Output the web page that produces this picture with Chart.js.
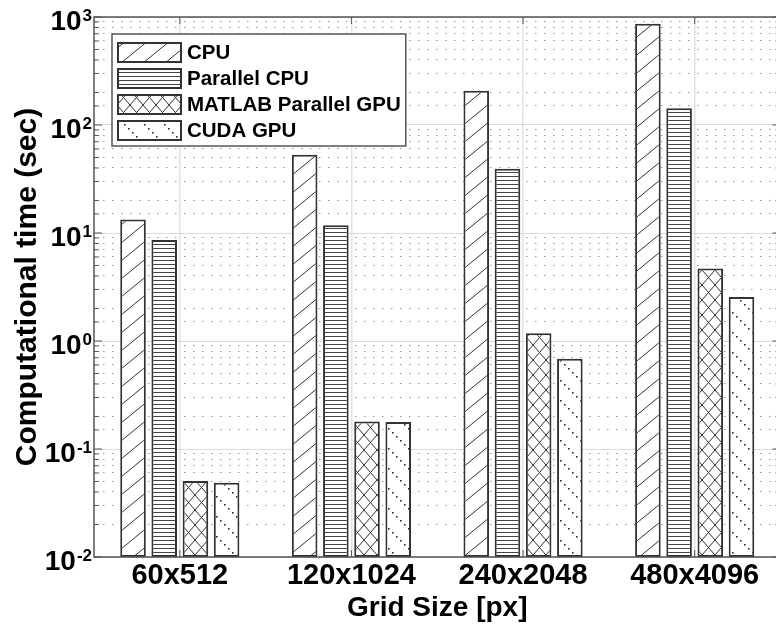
<!DOCTYPE html>
<html>
<head>
<meta charset="utf-8">
<title>Computational time</title>
<script src="https://cdn.jsdelivr.net/npm/chart.js@4.4.1/dist/chart.umd.min.js"></script>
<style>
  html, body { margin: 0; padding: 0; background: #fff; overflow: hidden; }
</style>
</head>
<body>
<canvas id="myChart" width="784" height="631"></canvas>
<script>
// data (seconds, log axis)
const categories = ['60x512', '120x1024', '240x2048', '480x4096'];
const seriesNames = ['CPU', 'Parallel CPU', 'MATLAB Parallel GPU', 'CUDA GPU'];
const cpuTime = [13.3, 53, 208, 866];
const parallelCpuTime = [8.6, 11.8, 39.4, 143];
const matlabGpuTime = [0.0505, 0.18, 1.18, 4.68];
const cudaGpuTime = [0.0487, 0.178, 0.686, 2.55];
const yTickValues = [0.01, 0.1, 1, 10, 100, 1000];
const yTickExponents = ['-2', '-1', '0', '1', '2', '3'];

const FONT = "'Liberation Sans', Arial, sans-serif";
Chart.defaults.font.family = FONT;
Chart.defaults.color = '#000';

const canvas = document.getElementById('myChart');
const ctx = canvas.getContext('2d');

// hatch fills, like the MATLAB hatchfill
function makePattern(w, h, draw) {
    const c = document.createElement('canvas');
    c.width = w;
    c.height = h;
    const g = c.getContext('2d');
    g.fillStyle = '#fff';
    g.fillRect(0, 0, w, h);
    g.strokeStyle = '#333';
    g.fillStyle = '#333';
    g.lineWidth = 1;
    draw(g, w, h);
    return ctx.createPattern(c, 'repeat');
}

const diagPattern = makePattern(22, 18, (g, w, h) => {
    g.beginPath();
    [-w, 0, w].forEach(dx => { g.moveTo(dx, h); g.lineTo(dx + w, 0); });
    g.stroke();
});
const horizPattern = makePattern(4, 4, (g) => {
    g.fillStyle = '#444';
    g.fillRect(0, 0, 4, 1);
});
const crossPattern = makePattern(13, 15, (g, w, h) => {
    g.beginPath();
    [-w, 0, w].forEach(dx => {
        g.moveTo(dx, h); g.lineTo(dx + w, 0);
        g.moveTo(dx, 0); g.lineTo(dx + w, h);
    });
    g.stroke();
});
const dotPattern = makePattern(20, 20, (g) => {
    g.fillStyle = '#2a2a2a';
    for (let k = 0; k < 5; k++) g.fillRect(k * 4, k * 4, 1.6, 1.6);
});

const fills = [diagPattern, horizPattern, crossPattern, dotPattern];
const seriesData = [cpuTime, parallelCpuTime, matlabGpuTime, cudaGpuTime];

function isDecade(v) {
    const l = Math.log10(v);
    return Math.abs(l - Math.round(l)) < 1e-6;
}

// box round the axes, inward ticks, 10^n labels and the framed legend
const matlabBox = {
    id: 'matlabBox',
    afterDatasetsDraw(chart) {
        const { ctx, chartArea: a, scales: { x, y } } = chart;
        ctx.save();
        ctx.strokeStyle = '#555';
        ctx.lineWidth = 1;
        ctx.beginPath();
        y.ticks.forEach(t => {
            const py = y.getPixelForValue(t.value);
            const len = isDecade(t.value) ? 8 : 5;
            ctx.moveTo(a.left, py); ctx.lineTo(a.left + len, py);
            ctx.moveTo(a.right, py); ctx.lineTo(a.right - len, py);
        });
        categories.forEach((c, i) => {
            const px = x.getPixelForValue(i);
            ctx.moveTo(px, a.top); ctx.lineTo(px, a.top + 7);
            ctx.moveTo(px, a.bottom); ctx.lineTo(px, a.bottom - 7);
        });
        ctx.stroke();
        ctx.lineWidth = 1.5;
        ctx.strokeRect(a.left, a.top, a.right - a.left, a.bottom - a.top);

        // y tick labels with raised exponent
        ctx.fillStyle = '#000';
        ctx.textBaseline = 'alphabetic';
        ctx.textAlign = 'left';
        yTickValues.forEach((v, i) => {
            const py = y.getPixelForValue(v);
            ctx.font = 'bold 17px ' + FONT;
            const ew = ctx.measureText(yTickExponents[i]).width;
            ctx.font = 'bold 28px ' + FONT;
            const bw = ctx.measureText('10').width;
            const right = a.left - 2;
            ctx.fillText('10', right - ew - bw - 1, py + 13);
            ctx.font = 'bold 17px ' + FONT;
            ctx.fillText(yTickExponents[i], right - ew, py + 4);
        });
        ctx.restore();
    },
    afterDraw(chart) {
        const { ctx, chartArea: a } = chart;
        const sets = chart.data.datasets;
        const left = a.left + 18, top = a.top + 17;
        const swW = 63, swH = 19, rowH = 26;
        ctx.save();
        ctx.font = 'bold 20.5px ' + FONT;
        const maxText = Math.max(...sets.map(d => ctx.measureText(d.label).width));
        const boxW = 6 + swW + 6 + maxText + 5;
        const boxH = 9 + rowH * sets.length - 7 + 6;
        ctx.fillStyle = '#fff';
        ctx.fillRect(left, top, boxW, boxH);
        ctx.strokeStyle = '#555';
        ctx.lineWidth = 1.5;
        ctx.strokeRect(left, top, boxW, boxH);
        sets.forEach((d, i) => {
            const sx = left + 6, sy = top + 9 + i * rowH;
            ctx.fillStyle = d.backgroundColor;
            ctx.fillRect(sx, sy, swW, swH);
            ctx.strokeStyle = d.borderColor;
            ctx.lineWidth = d.borderWidth;
            ctx.strokeRect(sx, sy, swW, swH);
            ctx.fillStyle = '#000';
            ctx.textBaseline = 'middle';
            ctx.fillText(d.label, sx + swW + 6, sy + swH / 2 + 1);
        });
        ctx.restore();
    }
};

new Chart(ctx, {
    type: 'bar',
    data: {
        labels: categories,
        datasets: seriesNames.map((name, i) => ({
            label: name,
            data: seriesData[i],
            backgroundColor: fills[i],
            borderColor: '#333',
            borderWidth: 2,
            borderSkipped: false,
            barPercentage: 0.82,
            categoryPercentage: 0.727
        }))
    },
    options: {
        responsive: false,
        animation: false,
        devicePixelRatio: 1,
        layout: { padding: { left: 13, top: 15.5, right: 3.5, bottom: 9 } },
        plugins: {
            legend: { display: false },
            tooltip: { enabled: false }
        },
        scales: {
            x: {
                grid: { color: '#e2e2e2', lineWidth: 1.5, offset: false, drawTicks: false },
                border: { display: false },
                ticks: { font: { size: 29, weight: 'bold', lineHeight: 1 }, padding: 4 },
                title: {
                    display: true,
                    text: 'Grid Size [px]',
                    font: { size: 28, weight: 'bold', lineHeight: 1 },
                    padding: 0
                }
            },
            y: {
                type: 'logarithmic',
                min: 0.01,
                max: 1000,
                afterFit: (scale) => { scale.width = 81; },
                grid: {
                    drawTicks: false,
                    lineWidth: 1,
                    color: (c) => (c.tick && isDecade(c.tick.value)) ? '#dadada' : '#9a9a9a'
                },
                border: {
                    display: false,
                    dash: (c) => (c.tick && !isDecade(c.tick.value)) ? [1.5, 7.5] : []
                },
                ticks: {
                    autoSkip: false,
                    font: { size: 28, weight: 'bold', lineHeight: 1 },
                    callback: () => ''
                },
                title: {
                    display: true,
                    text: 'Computational time (sec)',
                    font: { size: 30, weight: 'bold', lineHeight: 1 },
                    padding: 0
                }
            }
        }
    },
    plugins: [matlabBox]
});
</script>
</body>
</html>
